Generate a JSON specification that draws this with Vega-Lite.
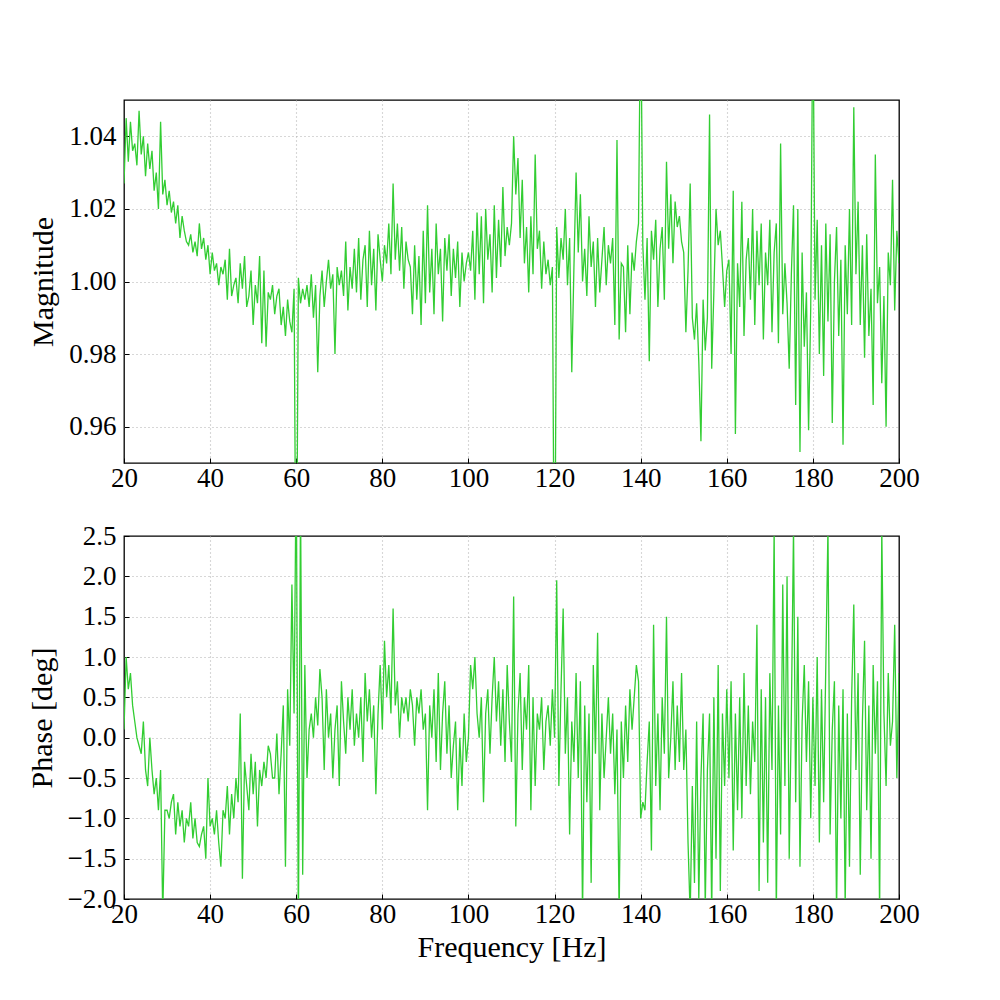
{
"$schema": "https://vega.github.io/schema/vega-lite/v6.json",
"padding": {"left": 26, "top": 99, "right": 5, "bottom": 5},
"background": "white",
"config": {
  "view": {"stroke": "black", "strokeWidth": 1.3},
  "font": "Liberation Serif",
  "axis": {"labelFont": "Liberation Serif", "labelFontSize": 27, "titleFont": "Liberation Serif", "titleFontSize": 30, "titleFontWeight": "normal", "labelColor": "black", "titleColor": "black", "ticks": true, "tickSize": -5, "tickColor": "black", "tickWidth": 1, "domain": false, "gridColor": "#b0b0b0", "gridDash": [1, 3], "gridWidth": 1.1}
},
"data": {"values": [
{"f":20,"m":1.027,"p":0.1},{"f":20.5,"m":1.045,"p":1.0},{"f":21,"m":1.033,"p":0.6},{"f":21.5,"m":1.044,"p":0.8},{"f":22,"m":1.036,"p":0.4},{"f":22.5,"m":1.038,"p":0.2},{"f":23,"m":1.032,"p":0.0},{"f":23.5,"m":1.047,"p":-0.1},{"f":24,"m":1.035,"p":-0.2},{"f":24.5,"m":1.040,"p":0.2},
{"f":25,"m":1.029,"p":-0.4},{"f":25.5,"m":1.038,"p":-0.6},{"f":26,"m":1.031,"p":0.0},{"f":26.5,"m":1.036,"p":-0.4},{"f":27,"m":1.025,"p":-0.7},{"f":27.5,"m":1.030,"p":-0.5},{"f":28,"m":1.020,"p":-0.9},{"f":28.5,"m":1.044,"p":-0.4},{"f":29,"m":1.024,"p":-2.2},{"f":29.5,"m":1.028,"p":-0.9},
{"f":30,"m":1.021,"p":-0.9},{"f":30.5,"m":1.025,"p":-1.0},{"f":31,"m":1.019,"p":-0.8},{"f":31.5,"m":1.022,"p":-0.7},{"f":32,"m":1.016,"p":-1.2},{"f":32.5,"m":1.021,"p":-0.8},{"f":33,"m":1.012,"p":-1.1},{"f":33.5,"m":1.018,"p":-0.9},{"f":34,"m":1.014,"p":-1.3},{"f":34.5,"m":1.011,"p":-1.0},
{"f":35,"m":1.010,"p":-1.1},{"f":35.5,"m":1.013,"p":-0.8},{"f":36,"m":1.008,"p":-1.25},{"f":36.5,"m":1.011,"p":-1.0},{"f":37,"m":1.007,"p":-1.3},{"f":37.5,"m":1.016,"p":-1.35},{"f":38,"m":1.009,"p":-1.2},{"f":38.5,"m":1.012,"p":-1.1},{"f":39,"m":1.006,"p":-1.5},{"f":39.5,"m":1.010,"p":-0.5},
{"f":40,"m":1.002,"p":-1.1},{"f":40.5,"m":1.008,"p":-1.0},{"f":41,"m":1.003,"p":-1.2},{"f":41.5,"m":1.005,"p":-0.9},{"f":42,"m":0.999,"p":-1.3},{"f":42.5,"m":1.004,"p":-1.6},{"f":43,"m":1.002,"p":-0.9},{"f":43.5,"m":1.006,"p":-1.0},{"f":44,"m":0.995,"p":-0.6},{"f":44.5,"m":1.009,"p":-1.2},
{"f":45,"m":0.996,"p":-0.7},{"f":45.5,"m":0.999,"p":-1.0},{"f":46,"m":1.001,"p":-0.5},{"f":46.5,"m":0.994,"p":-0.8},{"f":47,"m":1.005,"p":0.3},{"f":47.5,"m":0.998,"p":-1.75},{"f":48,"m":1.007,"p":-0.3},{"f":48.5,"m":0.993,"p":-0.6},{"f":49,"m":0.996,"p":-0.9},{"f":49.5,"m":1.003,"p":-0.2},
{"f":50,"m":0.988,"p":-0.7},{"f":50.5,"m":0.999,"p":-0.3},{"f":51,"m":0.994,"p":-1.1},{"f":51.5,"m":1.007,"p":-0.4},{"f":52,"m":0.983,"p":-0.6},{"f":52.5,"m":1.003,"p":-0.3},{"f":53,"m":0.982,"p":-0.5},{"f":53.5,"m":0.997,"p":-0.1},{"f":54,"m":0.995,"p":-0.2},{"f":54.5,"m":0.999,"p":-0.5},
{"f":55,"m":0.991,"p":-0.5},{"f":55.5,"m":0.996,"p":0.05},{"f":56,"m":0.998,"p":-0.7},{"f":56.5,"m":0.988,"p":-0.2},{"f":57,"m":0.993,"p":0.4},{"f":57.5,"m":0.985,"p":-1.6},{"f":58,"m":0.995,"p":0.6},{"f":58.5,"m":0.989,"p":-0.1},{"f":59,"m":0.986,"p":1.9},{"f":59.5,"m":0.998,"p":0.3},
{"f":60,"m":0.90,"p":3.5},{"f":60.5,"m":1.001,"p":-2.5},{"f":61,"m":0.994,"p":3.0},{"f":61.5,"m":0.998,"p":-1.7},{"f":62,"m":0.995,"p":0.9},{"f":62.5,"m":0.999,"p":-0.5},{"f":63,"m":0.993,"p":0.1},{"f":63.5,"m":1.002,"p":0.3},{"f":64,"m":0.990,"p":0.0},{"f":64.5,"m":0.999,"p":0.5},
{"f":65,"m":0.975,"p":0.15},{"f":65.5,"m":0.996,"p":0.85},{"f":66,"m":1.003,"p":0.5},{"f":66.5,"m":0.993,"p":-0.4},{"f":67,"m":1.000,"p":0.6},{"f":67.5,"m":1.006,"p":0.0},{"f":68,"m":0.998,"p":0.3},{"f":68.5,"m":1.002,"p":-0.5},{"f":69,"m":0.980,"p":0.1},{"f":69.5,"m":1.004,"p":0.4},
{"f":70,"m":0.999,"p":-0.6},{"f":70.5,"m":1.003,"p":0.7},{"f":71,"m":0.996,"p":0.2},{"f":71.5,"m":1.011,"p":-0.2},{"f":72,"m":0.992,"p":0.5},{"f":72.5,"m":1.004,"p":0.1},{"f":73,"m":0.998,"p":0.6},{"f":73.5,"m":1.009,"p":-0.1},{"f":74,"m":0.997,"p":0.3},{"f":74.5,"m":1.012,"p":0.0},
{"f":75,"m":0.995,"p":0.5},{"f":75.5,"m":1.006,"p":-0.3},{"f":76,"m":1.010,"p":0.8},{"f":76.5,"m":0.993,"p":0.2},{"f":77,"m":1.014,"p":0.6},{"f":77.5,"m":0.999,"p":0.0},{"f":78,"m":1.009,"p":0.4},{"f":78.5,"m":0.992,"p":-0.7},{"f":79,"m":1.013,"p":0.3},{"f":79.5,"m":1.006,"p":0.9},
{"f":80,"m":1.000,"p":0.1},{"f":80.5,"m":1.010,"p":1.2},{"f":81,"m":1.005,"p":0.5},{"f":81.5,"m":1.016,"p":0.9},{"f":82,"m":1.002,"p":0.3},{"f":82.5,"m":1.027,"p":1.6},{"f":83,"m":1.006,"p":0.4},{"f":83.5,"m":1.016,"p":0.7},{"f":84,"m":1.003,"p":0.0},{"f":84.5,"m":1.015,"p":0.5},
{"f":85,"m":0.998,"p":0.3},{"f":85.5,"m":1.011,"p":0.5},{"f":86,"m":1.006,"p":0.2},{"f":86.5,"m":1.004,"p":0.6},{"f":87,"m":0.991,"p":0.4},{"f":87.5,"m":1.010,"p":-0.1},{"f":88,"m":0.995,"p":0.5},{"f":88.5,"m":1.007,"p":0.3},{"f":89,"m":0.988,"p":0.6},{"f":89.5,"m":1.014,"p":0.1},
{"f":90,"m":0.994,"p":0.3},{"f":90.5,"m":1.021,"p":-0.9},{"f":91,"m":0.997,"p":0.4},{"f":91.5,"m":1.009,"p":0.0},{"f":92,"m":0.991,"p":0.6},{"f":92.5,"m":1.016,"p":-0.3},{"f":93,"m":1.002,"p":0.8},{"f":93.5,"m":1.009,"p":-0.4},{"f":94,"m":0.989,"p":0.3},{"f":94.5,"m":1.012,"p":0.7},
{"f":95,"m":1.003,"p":-0.2},{"f":95.5,"m":1.013,"p":0.4},{"f":96,"m":0.996,"p":-0.5},{"f":96.5,"m":1.009,"p":-0.1},{"f":97,"m":1.001,"p":0.2},{"f":97.5,"m":1.011,"p":-0.9},{"f":98,"m":0.993,"p":0.0},{"f":98.5,"m":1.008,"p":-0.6},{"f":99,"m":1.000,"p":0.3},{"f":99.5,"m":1.005,"p":-0.3},
{"f":100,"m":1.008,"p":0.0},{"f":100.5,"m":1.003,"p":0.9},{"f":101,"m":1.014,"p":0.6},{"f":101.5,"m":0.995,"p":1.0},{"f":102,"m":1.019,"p":0.3},{"f":102.5,"m":1.002,"p":0.0},{"f":103,"m":1.018,"p":0.5},{"f":103.5,"m":0.994,"p":-0.8},{"f":104,"m":1.020,"p":0.3},{"f":104.5,"m":1.006,"p":0.6},
{"f":105,"m":1.013,"p":-0.2},{"f":105.5,"m":0.997,"p":0.5},{"f":106,"m":1.021,"p":1.0},{"f":106.5,"m":1.001,"p":0.2},{"f":107,"m":1.017,"p":0.7},{"f":107.5,"m":1.004,"p":-0.1},{"f":108,"m":1.026,"p":0.6},{"f":108.5,"m":1.007,"p":-0.3},{"f":109,"m":1.015,"p":0.9},{"f":109.5,"m":1.010,"p":0.2},
{"f":110,"m":1.016,"p":-0.3},{"f":110.5,"m":1.040,"p":1.75},{"f":111,"m":1.024,"p":-1.1},{"f":111.5,"m":1.034,"p":0.3},{"f":112,"m":1.012,"p":0.8},{"f":112.5,"m":1.028,"p":-0.4},{"f":113,"m":1.005,"p":0.5},{"f":113.5,"m":1.015,"p":0.1},{"f":114,"m":0.997,"p":0.9},{"f":114.5,"m":1.018,"p":-0.9},
{"f":115,"m":1.002,"p":0.5},{"f":115.5,"m":1.035,"p":-0.6},{"f":116,"m":1.009,"p":0.3},{"f":116.5,"m":1.014,"p":0.1},{"f":117,"m":0.998,"p":0.5},{"f":117.5,"m":1.011,"p":-0.4},{"f":118,"m":1.002,"p":0.2},{"f":118.5,"m":1.006,"p":0.4},{"f":119,"m":0.999,"p":-0.1},{"f":119.5,"m":1.004,"p":0.6},
{"f":120,"m":0.90,"p":0.0},{"f":120.5,"m":1.015,"p":1.95},{"f":121,"m":1.001,"p":-0.6},{"f":121.5,"m":1.012,"p":0.6},{"f":122,"m":1.006,"p":1.6},{"f":122.5,"m":1.020,"p":-0.2},{"f":123,"m":0.999,"p":0.5},{"f":123.5,"m":1.012,"p":-1.2},{"f":124,"m":0.975,"p":0.2},{"f":124.5,"m":1.004,"p":-0.3},
{"f":125,"m":1.030,"p":0.8},{"f":125.5,"m":1.008,"p":-0.5},{"f":126,"m":1.024,"p":0.7},{"f":126.5,"m":1.000,"p":-2.2},{"f":127,"m":1.009,"p":0.4},{"f":127.5,"m":0.996,"p":-0.8},{"f":128,"m":1.018,"p":0.3},{"f":128.5,"m":1.004,"p":-1.8},{"f":129,"m":1.011,"p":0.9},{"f":129.5,"m":0.993,"p":-0.2},
{"f":130,"m":1.012,"p":1.3},{"f":130.5,"m":0.997,"p":-0.9},{"f":131,"m":1.006,"p":0.3},{"f":131.5,"m":1.015,"p":-0.5},{"f":132,"m":0.999,"p":0.0},{"f":132.5,"m":1.010,"p":0.5},{"f":133,"m":1.005,"p":-0.2},{"f":133.5,"m":1.012,"p":0.3},{"f":134,"m":0.988,"p":-0.7},{"f":134.5,"m":1.039,"p":0.1},
{"f":135,"m":0.984,"p":-2.2},{"f":135.5,"m":1.005,"p":0.2},{"f":136,"m":1.004,"p":-0.5},{"f":136.5,"m":0.986,"p":0.4},{"f":137,"m":1.010,"p":-0.3},{"f":137.5,"m":0.991,"p":0.6},{"f":138,"m":1.008,"p":0.1},{"f":138.5,"m":1.003,"p":0.5},{"f":139,"m":1.011,"p":0.9},{"f":139.5,"m":1.016,"p":0.7},
{"f":140,"m":1.08,"p":-1.0},{"f":140.5,"m":1.010,"p":-0.8},{"f":141,"m":0.995,"p":-0.9},{"f":141.5,"m":1.012,"p":-0.3},{"f":142,"m":0.978,"p":0.2},{"f":142.5,"m":1.014,"p":-1.4},{"f":143,"m":1.006,"p":1.4},{"f":143.5,"m":1.017,"p":-0.6},{"f":144,"m":0.993,"p":0.3},{"f":144.5,"m":1.009,"p":-0.9},
{"f":145,"m":1.015,"p":0.5},{"f":145.5,"m":0.995,"p":-0.2},{"f":146,"m":1.033,"p":1.5},{"f":146.5,"m":1.009,"p":-0.5},{"f":147,"m":1.024,"p":0.0},{"f":147.5,"m":1.005,"p":0.7},{"f":148,"m":1.022,"p":-0.4},{"f":148.5,"m":1.015,"p":0.4},{"f":149,"m":1.018,"p":-0.3},{"f":149.5,"m":1.011,"p":0.8},
{"f":150,"m":1.008,"p":-0.4},{"f":150.5,"m":0.986,"p":0.1},{"f":151,"m":1.003,"p":-1.3},{"f":151.5,"m":1.027,"p":-2.2},{"f":152,"m":0.990,"p":-0.6},{"f":152.5,"m":0.984,"p":-1.8},{"f":153,"m":0.994,"p":0.2},{"f":153.5,"m":0.978,"p":-2.0},{"f":154,"m":0.956,"p":-0.5},{"f":154.5,"m":0.995,"p":0.3},
{"f":155,"m":0.981,"p":-2.1},{"f":155.5,"m":0.990,"p":-0.4},{"f":156,"m":1.046,"p":0.3},{"f":156.5,"m":0.976,"p":-2.2},{"f":157,"m":0.997,"p":0.5},{"f":157.5,"m":1.020,"p":-1.5},{"f":158,"m":1.010,"p":0.9},{"f":158.5,"m":1.014,"p":-1.9},{"f":159,"m":1.004,"p":0.3},{"f":159.5,"m":0.993,"p":-0.6},
{"f":160,"m":1.003,"p":0.6},{"f":160.5,"m":1.006,"p":-0.5},{"f":161,"m":0.980,"p":0.7},{"f":161.5,"m":1.025,"p":-1.4},{"f":162,"m":0.958,"p":0.3},{"f":162.5,"m":1.005,"p":-0.9},{"f":163,"m":0.993,"p":0.5},{"f":163.5,"m":1.022,"p":-1.0},{"f":164,"m":0.985,"p":0.8},{"f":164.5,"m":1.006,"p":-0.6},
{"f":165,"m":1.012,"p":0.4},{"f":165.5,"m":0.995,"p":-0.7},{"f":166,"m":1.020,"p":0.2},{"f":166.5,"m":0.988,"p":-0.3},{"f":167,"m":1.014,"p":1.4},{"f":167.5,"m":0.999,"p":-1.9},{"f":168,"m":1.016,"p":0.6},{"f":168.5,"m":0.984,"p":-1.3},{"f":169,"m":1.008,"p":0.5},{"f":169.5,"m":0.999,"p":-1.8},
{"f":170,"m":1.017,"p":0.8},{"f":170.5,"m":0.986,"p":-0.4},{"f":171,"m":1.008,"p":2.6},{"f":171.5,"m":1.016,"p":-2.2},{"f":172,"m":0.983,"p":0.4},{"f":172.5,"m":1.038,"p":-1.2},{"f":173,"m":0.991,"p":1.9},{"f":173.5,"m":1.005,"p":-0.6},{"f":174,"m":0.994,"p":2.0},{"f":174.5,"m":0.976,"p":-1.5},
{"f":175,"m":1.002,"p":0.3},{"f":175.5,"m":1.021,"p":2.6},{"f":176,"m":0.966,"p":-0.8},{"f":176.5,"m":1.020,"p":1.5},{"f":177,"m":0.953,"p":-1.6},{"f":177.5,"m":1.008,"p":0.2},{"f":178,"m":0.982,"p":0.9},{"f":178.5,"m":0.997,"p":-0.3},{"f":179,"m":0.959,"p":0.7},{"f":179.5,"m":0.993,"p":-1.0},
{"f":180,"m":1.08,"p":0.5},{"f":180.5,"m":0.995,"p":-0.6},{"f":181,"m":1.017,"p":1.0},{"f":181.5,"m":0.980,"p":-1.3},{"f":182,"m":1.010,"p":0.6},{"f":182.5,"m":0.974,"p":-0.8},{"f":183,"m":1.016,"p":0.9},{"f":183.5,"m":0.989,"p":2.6},{"f":184,"m":1.013,"p":-1.2},{"f":184.5,"m":0.961,"p":0.1},
{"f":185,"m":1.000,"p":0.7},{"f":185.5,"m":1.015,"p":-2.2},{"f":186,"m":0.985,"p":0.4},{"f":186.5,"m":1.006,"p":-1.0},{"f":187,"m":0.955,"p":0.6},{"f":187.5,"m":1.010,"p":-2.1},{"f":188,"m":0.991,"p":0.3},{"f":188.5,"m":1.020,"p":-1.6},{"f":189,"m":0.988,"p":0.5},{"f":189.5,"m":1.048,"p":1.65},
{"f":190,"m":1.002,"p":-0.4},{"f":190.5,"m":1.022,"p":0.8},{"f":191,"m":0.988,"p":-1.7},{"f":191.5,"m":1.010,"p":0.2},{"f":192,"m":0.979,"p":1.2},{"f":192.5,"m":1.013,"p":-0.9},{"f":193,"m":0.985,"p":0.4},{"f":193.5,"m":0.998,"p":-1.5},{"f":194,"m":0.966,"p":0.9},{"f":194.5,"m":1.035,"p":-0.2},
{"f":195,"m":0.994,"p":0.7},{"f":195.5,"m":1.004,"p":-2.2},{"f":196,"m":0.972,"p":2.6},{"f":196.5,"m":0.996,"p":0.3},{"f":197,"m":0.960,"p":-0.6},{"f":197.5,"m":1.008,"p":0.8},{"f":198,"m":0.999,"p":-0.1},{"f":198.5,"m":1.028,"p":0.2},{"f":199,"m":0.992,"p":1.4},{"f":199.5,"m":1.014,"p":-0.5},
{"f":200,"m":1.005,"p":0.8}
]},
"bounds": "flush",
"spacing": 73,
"vconcat": [
  {
    "width": 775, "height": 363,
    "mark": {"type": "line", "color": "#32cd32", "strokeWidth": 1.3, "clip": true},
    "encoding": {
      "x": {"field": "f", "type": "quantitative", "scale": {"domain": [20, 200], "nice": false, "zero": false}, "axis": {"values": [20,40,60,80,100,120,140,160,180,200], "title": null, "labelPadding": 7, "labelFlush": false, "gridOpacity": {"condition": {"test": "datum.value == 20 || datum.value == 200", "value": 0}, "value": 1}}},
      "y": {"field": "m", "type": "quantitative", "scale": {"domain": [0.95, 1.05], "nice": false, "zero": false}, "axis": {"values": [0.96,0.98,1.0,1.02,1.04], "format": ".2f", "title": "Magnitude", "labelPadding": 13, "titlePadding": 10}}
    }
  },
  {
    "width": 775, "height": 363,
    "mark": {"type": "line", "color": "#32cd32", "strokeWidth": 1.3, "clip": true},
    "encoding": {
      "x": {"field": "f", "type": "quantitative", "scale": {"domain": [20, 200], "nice": false, "zero": false}, "axis": {"values": [20,40,60,80,100,120,140,160,180,200], "title": "Frequency [Hz]", "labelPadding": 7, "titlePadding": 5, "labelFlush": false, "gridOpacity": {"condition": {"test": "datum.value == 20 || datum.value == 200", "value": 0}, "value": 1}}},
      "y": {"field": "p", "type": "quantitative", "scale": {"domain": [-2.0, 2.5], "nice": false, "zero": false}, "axis": {"values": [-2.0,-1.5,-1.0,-0.5,0.0,0.5,1.0,1.5,2.0,2.5], "format": ".1f", "title": "Phase [deg]", "labelPadding": 13, "titlePadding": 10, "gridOpacity": {"condition": {"test": "datum.value == 2.5 || datum.value == -2", "value": 0}, "value": 1}}}
    }
  }
]
}
